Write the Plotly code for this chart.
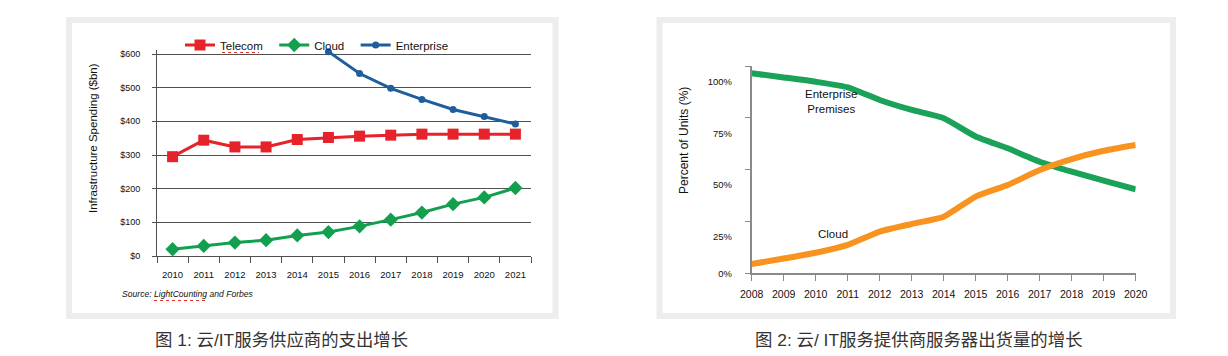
import plotly.graph_objects as go

W, H = 1228, 356

# ---------------- Figure 1 data ----------------
years1 = ['2010', '2011', '2012', '2013', '2014', '2015',
          '2016', '2017', '2018', '2019', '2020', '2021']
telecom = [295, 344, 324, 324, 346, 352, 356, 359, 362, 362, 362, 362]
cloud1 = [20, 30, 40, 47, 61, 71, 88, 108, 129, 154, 174, 202]
enterprise_years = ['2015', '2016', '2017', '2018', '2019', '2020', '2021']
enterprise1 = [607, 542, 498, 465, 435, 414, 392]
y1_ticks = [0, 100, 200, 300, 400, 500, 600]
y1_ticklabels = ['$0', '$100', '$200', '$300', '$400', '$500', '$600']
series1_names = ['Telecom', 'Cloud', 'Enterprise']

# ---------------- Figure 2 data ----------------
years2 = [2008, 2009, 2010, 2011, 2012, 2013, 2014,
          2015, 2016, 2017, 2018, 2019, 2020]
premises2 = [96.5, 94.5, 92.4, 89.7, 83.6, 78.8, 74.8,
             66.0, 60.3, 53.8, 49.0, 44.7, 40.5]
cloud2 = [4.5, 7.1, 9.9, 13.7, 20.1, 23.8, 27.3,
          37.0, 42.6, 49.8, 55.1, 59.1, 61.9]
y2_ticks = [0, 25, 50, 75, 100]
y2_ticklabels = ['0%', '25%', '50%', '75%', '100%']

caption1 = '图 1: 云/IT服务供应商的支出增长'
caption2 = '图 2: 云/ IT服务提供商服务器出货量的增长'

FONT = 'Liberation Sans, Arial, sans-serif'
CJK = 'Liberation Sans, Noto Sans CJK SC, sans-serif'
PAD = '\u00a0\u00a0'  # extra legend spacing


def px(x):
    return x / W


def py(y):
    return 1 - y / H


fig = go.Figure()

fig.add_trace(go.Scatter(
    x=years1, y=telecom, name=series1_names[0] + PAD, mode='lines+markers',
    line=dict(color='#e6222b', width=3),
    marker=dict(symbol='square', size=11, color='#e6222b'),
    xaxis='x', yaxis='y'))
fig.add_trace(go.Scatter(
    x=years1, y=cloud1, name=series1_names[1] + PAD, mode='lines+markers',
    line=dict(color='#12a04e', width=3),
    marker=dict(symbol='diamond', size=11, color='#12a04e'),
    xaxis='x', yaxis='y'))
fig.add_trace(go.Scatter(
    x=enterprise_years, y=enterprise1, name=series1_names[2], mode='lines+markers',
    line=dict(color='#1f5e9c', width=3),
    marker=dict(symbol='circle', size=7, color='#1f5e9c'),
    cliponaxis=False,
    xaxis='x', yaxis='y'))

fig.add_trace(go.Scatter(
    x=years2, y=premises2, name='Enterprise Premises', mode='lines',
    line=dict(color='#1aa259', width=6, shape='spline', smoothing=0.5),
    showlegend=False, xaxis='x2', yaxis='y2'))
fig.add_trace(go.Scatter(
    x=years2, y=cloud2, name='Cloud', mode='lines',
    line=dict(color='#f7931e', width=6, shape='spline', smoothing=0.5),
    showlegend=False, xaxis='x2', yaxis='y2'))

grid = '#505050'
axis2 = '#8a8a8a'

# y range extended a little so the 2015 Enterprise point (just above $600) is visible
Y1_TOP = 612
y1_bottom_px, y1_600_px = 256, 54
y1_top_px = y1_bottom_px - (y1_bottom_px - y1_600_px) * Y1_TOP / 600

fig.update_layout(
    template='none',
    width=W, height=H,
    margin=dict(l=0, r=0, t=0, b=0, pad=0, autoexpand=False),
    paper_bgcolor='white', plot_bgcolor='rgba(0,0,0,0)',
    font=dict(family=FONT, color='#111'),
    showlegend=True,
    legend=dict(orientation='h', x=px(180), xanchor='left', y=py(45), yanchor='middle',
                font=dict(size=11.5, family=FONT, color='#111'),
                bgcolor='rgba(0,0,0,0)', borderwidth=0, tracegroupgap=0),
    xaxis=dict(domain=[px(157), px(531)], anchor='y', type='category',
               categoryorder='array', categoryarray=years1, range=[-0.5, 11.5],
               tickson='boundaries', ticks='outside', ticklen=6, tickcolor=grid,
               showline=True, linecolor=grid, linewidth=1, showgrid=False,
               zeroline=False, automargin=False,
               tickfont=dict(size=9.5, color='#111'), ticklabelstandoff=10),
    yaxis=dict(domain=[py(y1_bottom_px), py(y1_top_px)], anchor='x', range=[0, Y1_TOP],
               tickvals=y1_ticks, ticktext=y1_ticklabels,
               showgrid=True, gridcolor=grid, gridwidth=1, zeroline=False,
               showline=True, linecolor=grid, linewidth=1,
               ticks='outside', ticklen=4, tickcolor=grid, automargin=False,
               tickfont=dict(size=9, color='#111'), ticklabelstandoff=10),
    xaxis2=dict(domain=[px(751.7), px(1135.7)], anchor='y2', range=[2008, 2020],
                tickvals=years2, ticks='outside', ticklen=6, tickcolor=axis2,
                showline=True, linecolor=axis2, linewidth=1.5, showgrid=False,
                zeroline=False, automargin=False,
                tickfont=dict(size=10.5, color='#111'), ticklabelstandoff=4),
    yaxis2=dict(domain=[py(273.3), py(66)], anchor='x2', range=[0, 100],
                # labels sit where the original image printed them; marks at the true ticks
                tickvals=[0, 17.5, 42.6, 67.2, 92.3], ticktext=y2_ticklabels,
                ticks='', showline=True, linecolor=axis2, linewidth=1.5,
                minor=dict(tickvals=y2_ticks, ticks='outside', ticklen=5,
                           tickcolor=axis2, showgrid=False),
                showgrid=False, zeroline=False, automargin=False,
                tickfont=dict(size=9.5, color='#111'), ticklabelstandoff=16),
)

# panel frames
for x0, x1 in [(69, 555.5), (659.5, 1173)]:
    fig.add_shape(type='rect', xref='paper', yref='paper',
                  x0=px(x0), x1=px(x1), y0=py(316), y1=py(20),
                  line=dict(color='#ededed', width=6), fillcolor='rgba(0,0,0,0)',
                  layer='below')

# spell-check squiggles
for x0, x1, yy in [(222, 259, 52.5), (154, 207, 300.5)]:
    fig.add_shape(type='line', xref='paper', yref='paper',
                  x0=px(x0), x1=px(x1), y0=py(yy), y1=py(yy),
                  line=dict(color='#e03030', width=1, dash='dot'))

ann = [
    dict(text='Infrastructure Spending ($bn)', x=px(93), y=py(138), textangle=-90,
         font=dict(size=11.5, family=FONT, color='#111')),
    dict(text='Percent of Units (%)', x=px(684), y=py(141), textangle=-90,
         font=dict(size=12, family=FONT, color='#111')),
    dict(text='<i>Source: LightCounting and Forbes</i>', x=px(120), y=py(294),
         xanchor='left', font=dict(size=8.6, family=FONT, color='#111')),
    dict(text='Enterprise<br>Premises', x=px(831), y=py(101),
         font=dict(size=11.5, family=FONT, color='#111')),
    dict(text='Cloud', x=px(833), y=py(234),
         font=dict(size=11.5, family=FONT, color='#111')),
    dict(text=caption1, x=px(153), y=py(340), xanchor='left',
         font=dict(size=17.4, family=CJK, color='#333')),
    dict(text=caption2, x=px(753), y=py(340), xanchor='left',
         font=dict(size=17.4, family=CJK, color='#333')),
]
for a in ann:
    a.setdefault('xanchor', 'center')
    fig.add_annotation(xref='paper', yref='paper', yanchor='middle',
                       showarrow=False, **a)

fig.write_html('out.html', config={'displayModeBar': False},
               post_script="document.body.style.margin='0';")
